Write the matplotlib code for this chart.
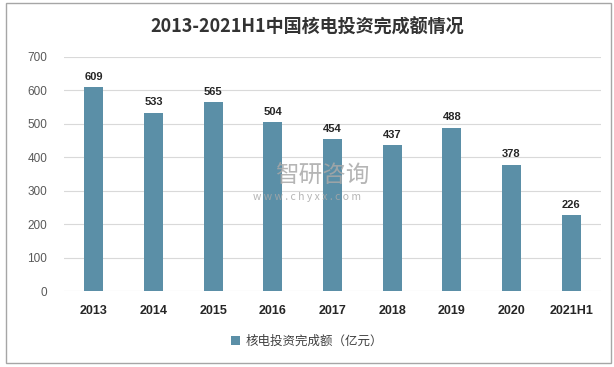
import matplotlib
matplotlib.use("Agg")
import matplotlib.pyplot as plt
from matplotlib.patches import Rectangle

plt.rcParams['font.family'] = ['Noto Sans CJK SC', 'DejaVu Sans']

# 数据
years = ['2013', '2014', '2015', '2016', '2017', '2018', '2019', '2020', '2021H1']
values = [609, 533, 565, 504, 454, 437, 488, 378, 226]
yticks = [0, 100, 200, 300, 400, 500, 600, 700]

bar_color = '#5b8fa7'

fig = plt.figure(figsize=(6.14, 3.67), dpi=100)
ax = fig.add_axes([0.104, 0.207, 0.875, 0.638])

x = range(len(years))
bars = ax.bar(x, values, width=0.32, color=bar_color, zorder=3,
              label='核电投资完成额（亿元）')
for xi, v in zip(x, values):
    ax.text(xi, v + 16, str(v), ha='center', va='bottom', fontsize=8,
            fontweight='bold', color='#262626', family=['Liberation Sans', 'DejaVu Sans'])

ax.set_xlim(-0.5, len(years) - 0.5)
ax.set_ylim(0, 700)
ax.set_yticks(yticks)
ax.set_xticks(list(x))
ax.set_xticklabels(years, fontsize=9, fontweight='bold', color='#262626',
                   family=['Liberation Sans', 'DejaVu Sans'])
ax.tick_params(axis='y', labelsize=8.5, labelcolor='#595959', length=0, pad=12)
ax.tick_params(axis='x', length=0, pad=10)
for lbl in ax.get_yticklabels():
    lbl.set_family(['Liberation Sans', 'DejaVu Sans'])
ax.grid(axis='y', color='#d9d9d9', linewidth=0.8, zorder=0)
for s in ax.spines.values():
    s.set_visible(False)

fig.text(0.5, 0.925, '2013-2021H1中国核电投资完成额情况', ha='center', va='center',
         fontsize=13, fontweight='bold', color='#333333')

# 水印
fig.text(0.525, 0.52, '智研咨询', ha='center', va='center', fontsize=17,
         color='#a8a8a8', alpha=0.85, zorder=5)
fig.text(0.50, 0.463, 'w w w . c h y x x . c o m', ha='center', va='center',
         fontsize=7.5, color='#a8a8a8', alpha=0.85, zorder=5)

fig.legend(handles=[bars], loc='center', bbox_to_anchor=(0.5, 0.07), frameon=False,
           fontsize=9, handlelength=0.7, handleheight=0.7, handletextpad=0.4,
           labelcolor='#404040')

# 外框
fig.patches.append(Rectangle((5.5 / 614, 1 - 362.5 / 367), 605 / 614, 359.5 / 367,
                             transform=fig.transFigure, fill=False,
                             edgecolor='#a6a6a6', linewidth=1))

fig.savefig('out.png', dpi=100)
